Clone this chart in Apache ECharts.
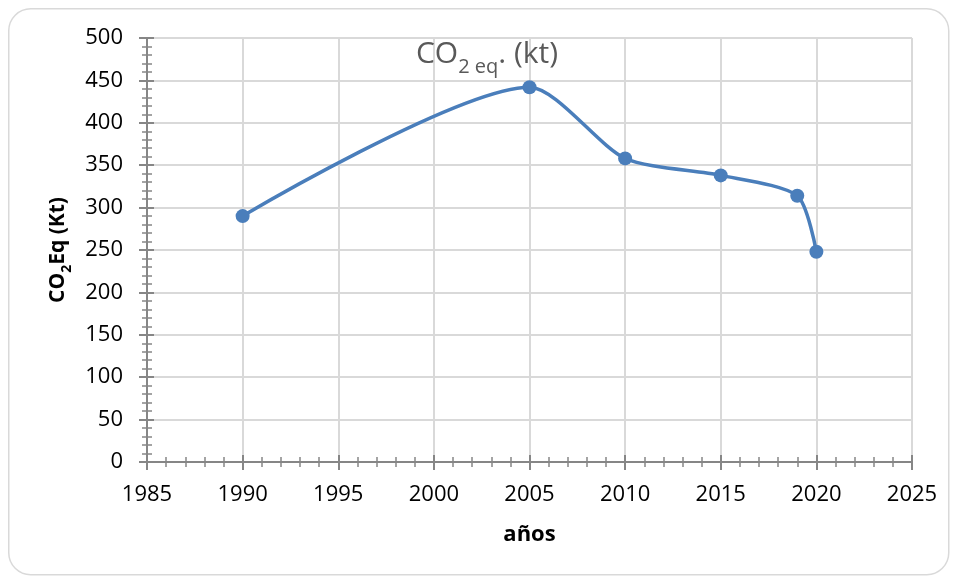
<!DOCTYPE html>
<html>
<head>
<meta charset="utf-8">
<script src="https://cdn.jsdelivr.net/npm/echarts@6/dist/echarts.min.js"></script>
<style>
html,body{margin:0;padding:0;background:#fff;}
#c{width:957px;height:580px;}
</style>
</head>
<body>
<div id="c"></div>
<script>
var years = [1990, 2005, 2010, 2015, 2019, 2020];
var co2 = [290, 442, 358, 338, 314, 248];
var xMin = 1985, xMax = 2025, xStep = 5;
var yMin = 0, yMax = 500, yStep = 50;

var font = 'Open Sans';
var points = years.map(function (y, i) { return [y, co2[i]]; });

var chart = echarts.init(document.getElementById('c'));
var tickColor = '#868686';
var gridColor = '#d9d9d9';

chart.setOption({
  animation: false,
  backgroundColor: '#fff',
  graphic: [{
    type: 'rect', left: 8, top: 8, z: -1,
    shape: { width: 940, height: 566, r: 22 },
    style: { fill: '#fff', stroke: '#d9d9d9', lineWidth: 1.5 }
  }],
  title: {
    text: '{m|CO}{s|2 eq}{m|. (kt)}',
    left: 482, top: 28, textAlign: 'center',
    textStyle: {
      rich: {
        m: { fontFamily: font, fontSize: 30, fontWeight: 'normal', color: '#595959', lineHeight: 36, verticalAlign: 'bottom' },
        s: { fontFamily: font, fontSize: 20, fontWeight: 'normal', color: '#595959', lineHeight: 36, verticalAlign: 'bottom', padding: [0, 0, -8, 0] }
      }
    }
  },
  grid: { left: 147, right: 45, top: 38, bottom: 118 },
  xAxis: [{
    type: 'value', min: xMin, max: xMax, interval: xStep,
    name: 'años', nameLocation: 'middle', nameGap: 62,
    nameTextStyle: { fontFamily: font, fontSize: 22, fontWeight: 'bold', color: '#000' },
    axisLine: { show: true, onZero: false, lineStyle: { color: tickColor, width: 2 } },
    axisTick: { show: true, length: 8, lineStyle: { color: tickColor, width: 2 } },
    minorTick: { show: true, splitNumber: 5, length: 5, lineStyle: { color: tickColor, width: 1.5 } },
    axisLabel: { fontFamily: font, fontSize: 22, color: '#000', margin: 22, formatter: function (v) { return String(v); } },
    splitLine: { show: true, lineStyle: { color: gridColor, width: 2 } }
  }, {
    type: 'value', min: xMin, max: xMax, interval: xStep, position: 'bottom',
    axisLine: { show: false },
    axisTick: { show: true, inside: true, length: 7, lineStyle: { color: tickColor, width: 2 } },
    minorTick: { show: true, splitNumber: 5, length: 5, lineStyle: { color: tickColor, width: 1.5 } },
    axisLabel: { show: false }, splitLine: { show: false }
  }],
  yAxis: [{
    type: 'value', min: yMin, max: yMax, interval: yStep,
    name: '{b|CO}{bs|2}{b|Eq (Kt)}', nameLocation: 'middle', nameGap: 76, nameRotate: 90,
    nameTextStyle: {
      rich: {
        b: { fontFamily: font, fontSize: 21, fontWeight: 'bold', color: '#000', lineHeight: 28, verticalAlign: 'bottom' },
        bs: { fontFamily: font, fontSize: 14, fontWeight: 'bold', color: '#000', lineHeight: 28, verticalAlign: 'bottom', padding: [0, 0, -6, 0] }
      }
    },
    axisLine: { show: true, lineStyle: { color: tickColor, width: 2 } },
    axisTick: { show: true, length: 8, lineStyle: { color: tickColor, width: 2 } },
    minorTick: { show: true, splitNumber: 5, length: 5, lineStyle: { color: tickColor, width: 1.5 } },
    axisLabel: { fontFamily: font, fontSize: 22, color: '#000', margin: 24 },
    splitLine: { show: true, lineStyle: { color: gridColor, width: 2 } }
  }, {
    type: 'value', min: yMin, max: yMax, interval: yStep, position: 'left',
    axisLine: { show: false },
    axisTick: { show: true, inside: true, length: 7, lineStyle: { color: tickColor, width: 2 } },
    minorTick: { show: true, splitNumber: 5, length: 5, lineStyle: { color: tickColor, width: 1.5 } },
    axisLabel: { show: false }, splitLine: { show: false }
  }],
  series: [{
    type: 'line',
    data: points,
    smooth: 0.25,
    symbol: 'circle', symbolSize: 14,
    lineStyle: { color: '#4a7ebb', width: 3.5 },
    itemStyle: { color: '#4a7ebb' }
  }]
});
</script>
</body>
</html>
